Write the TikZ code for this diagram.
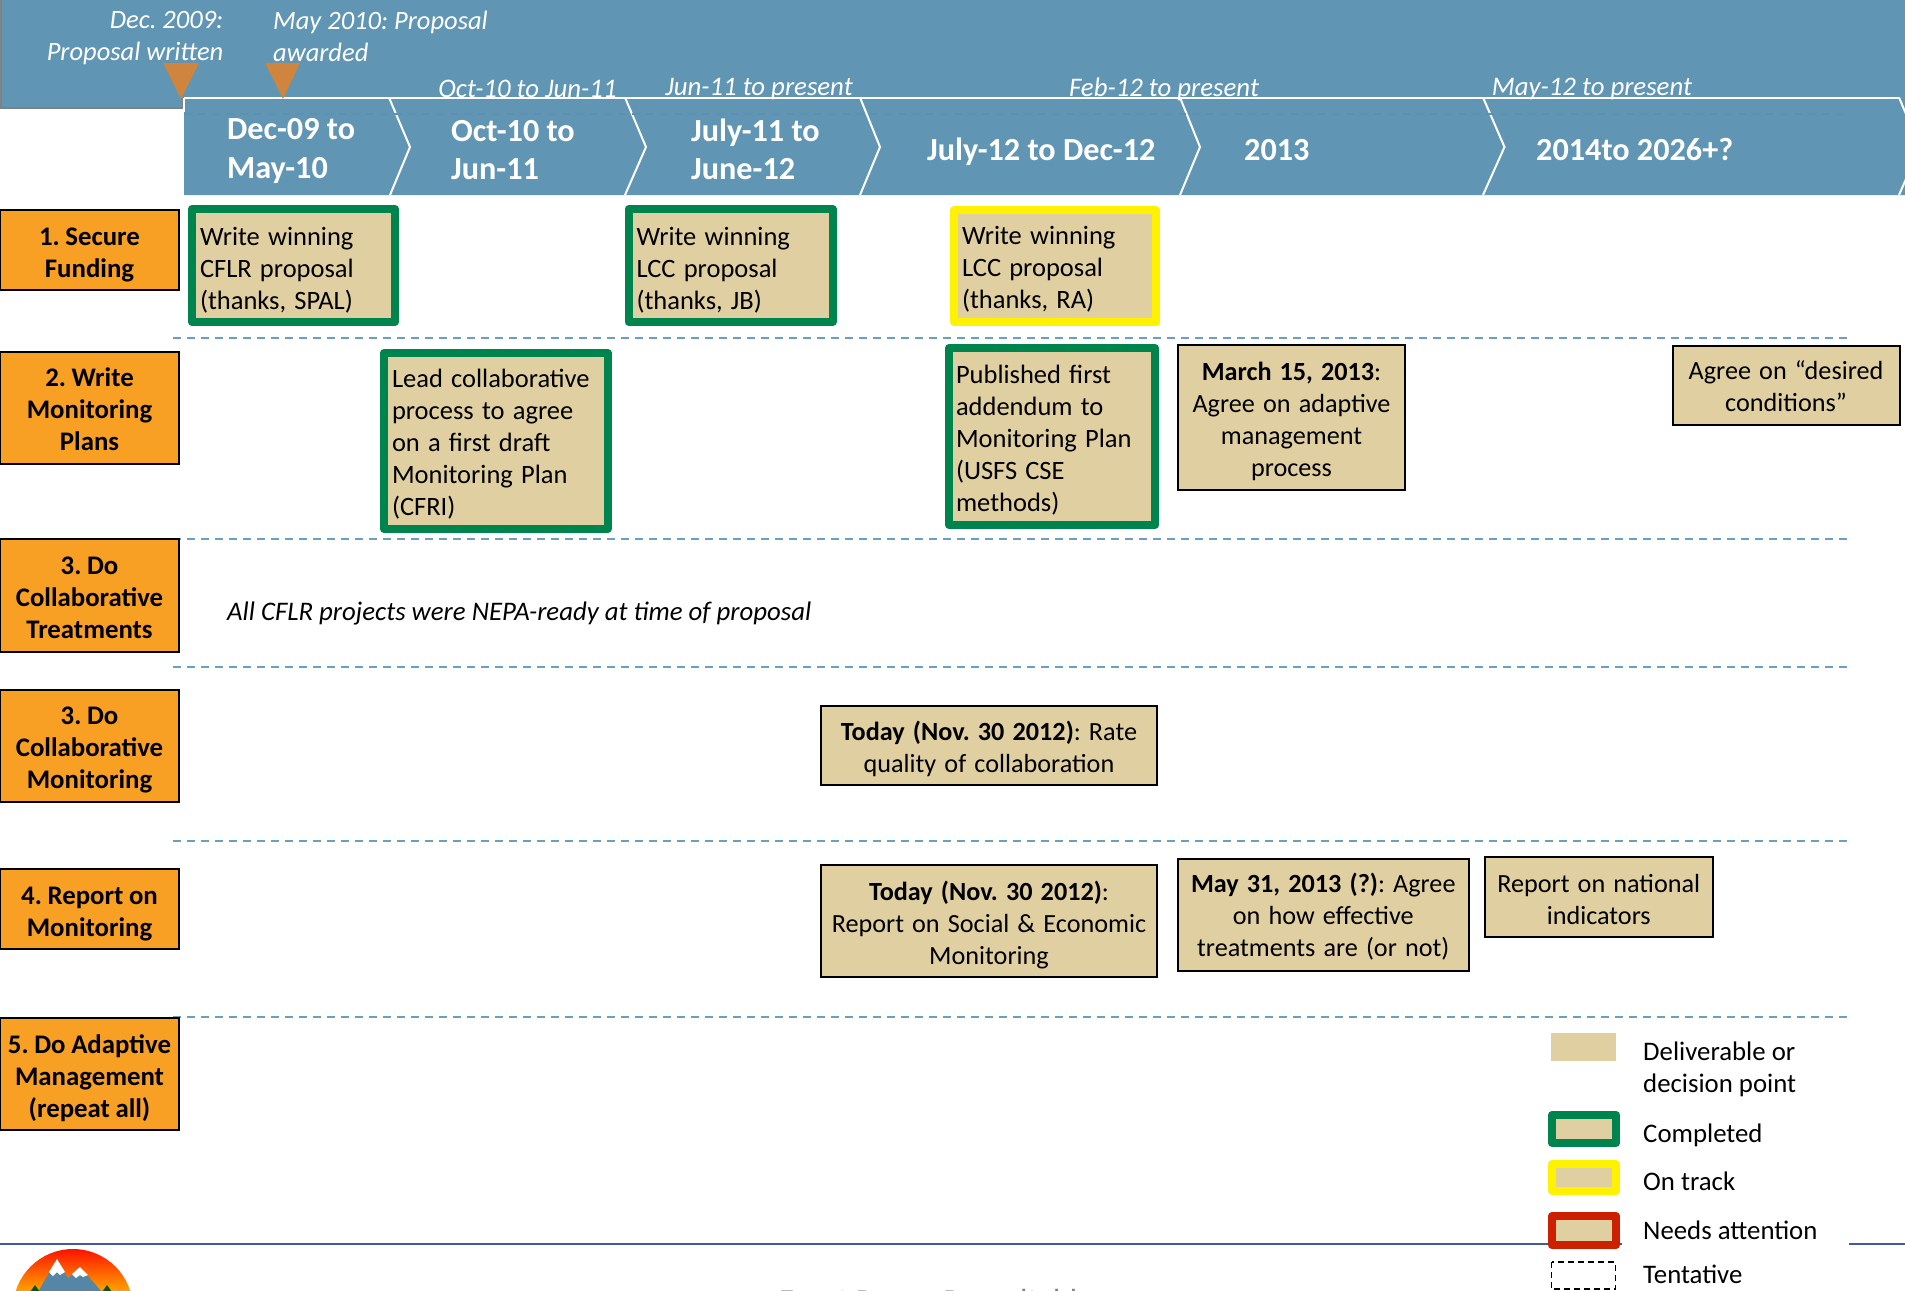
\documentclass[tikz,border=0pt]{standalone}
\usepackage{fontspec}
\setmainfont{Carlito}
\frenchspacing
\definecolor{band}{HTML}{6195B4}
\definecolor{tanbox}{HTML}{E0CFA0}
\definecolor{orangebox}{HTML}{F7A024}
\definecolor{okgreen}{HTML}{00844D}
\definecolor{attn}{HTML}{CC2000}
\definecolor{tri}{HTML}{CF853D}
\definecolor{divider}{HTML}{6B9FBF}
\definecolor{footline}{HTML}{3F5AA0}
\definecolor{mount}{HTML}{5586A6}
\tikzset{
  txt/.style={font=\fontsize{26.2}{32}\selectfont, inner sep=0pt, text=black},
  whitei/.style={font=\fontsize{26.8}{32}\selectfont\itshape, inner sep=0pt, text=white},
  whitem/.style={font=\fontsize{26.5}{32}\selectfont\itshape, inner sep=0pt, text=white},
  head/.style={font=\fontsize{32.2}{38.3}\selectfont\bfseries, inner sep=0pt, text=white, anchor=west, align=left},
  boxl/.style={txt, font=\fontsize{26.5}{32}\selectfont, fill=tanbox, align=left},
  done/.style={boxl, draw=okgreen, line width=8pt, line join=round},
  track/.style={boxl, draw=yellow, line width=8pt, line join=round},
  plain/.style={txt, fill=tanbox, draw=black, line width=2pt, align=center},
  task/.style={txt, font=\fontsize{26.8}{32}\selectfont\bfseries, fill=orangebox, draw=black, line width=2pt, align=center},
  divline/.style={divider, line width=2pt, dash pattern=on 8.3pt off 5.7pt},
  chev/.style={white, line width=2pt},
  legtxt/.style={txt, font=\fontsize{26.8}{32}\selectfont, anchor=west, align=left},
  tmark/.style={fill=tri, draw=none},
  swatch/.style={fill=tanbox, line width=8pt, line join=round}
}
\newcommand{\tlspacing}{}
\newcommand{\tlbox}[9]{%
  \pgfmathsetmacro\tcx{(#3+#5)/2}%
  \pgfmathsetmacro\tcy{(#4+#6)/2}%
  \pgfmathsetmacro\tw{#5-#3}%
  \pgfmathsetmacro\th{#6-#4}%
  \pgfmathsetmacro\ttw{#5-#3-2*#7}%
  \pgfmathsetmacro\trh{20+2*#8}%
  \node[#2, minimum width=\tw pt, minimum height=\th pt, inner xsep=#7pt, text width=\ttw pt] (#1) at (\tcx,\tcy) {\tlspacing\rule{0pt}{\trh pt}#9};%
}
\begin{document}
\begin{tikzpicture}[x=1pt,y=-1pt]
\useasboundingbox (0,0) rectangle (1905,1290);
\clip (0,0) rectangle (1905,1290);
\fill[white] (0,0) rectangle (1905,1290);
% band
\fill[band] (0,0) -- (1905,0) -- (1905,195) -- (184,195) -- (184,108) -- (0,108) -- cycle;
\draw[gray!85!band, line width=2pt] (1,0) -- (1,108) -- (183,108) -- (183,98);
% chevrons
\draw[chev] (184,97.5) -- (1899,97.5);
\draw[chev] (184,97.5) -- (184,112);
\draw[chev] (389,97.5) -- (410,147) -- (390,195);
\draw[chev] (625,97.5) -- (646,147) -- (625,195);
\draw[chev] (860,97.5) -- (880,147) -- (860,195);
\draw[chev] (1180,97.5) -- (1200,147) -- (1180,195);
\draw[chev] (1483,97.5) -- (1504.5,147) -- (1483,195);
\draw[chev] (1899,97.5) -- (1920,147) -- (1899,195);
\draw[band!97!black, line width=2pt, dash pattern=on 8.3pt off 5.7pt] (184,113.5) -- (1848,113.5);
% milestones
\fill[tmark] (163,63) -- (199,63) -- (181,99) -- cycle;
\fill[tmark] (265,63) -- (300,63) -- (283,99) -- cycle;
\node[whitem, anchor=east, align=right] (m1) at (223.5,38.2) {Dec. 2009:\\Proposal written};
\node[whitem, anchor=west, align=left] (m2) at (273,36) {May 2010: Proposal\\awarded};
\node[whitei] (p1) at (527.5,89.4) {Oct-10 to Jun-11};
\node[whitei] (p2) at (759,89.4) {Jun-11 to present};
\node[whitei] (p3) at (1164,89.4) {Feb-12 to present};
\node[whitei] (p4) at (1592,89.4) {May-12 to present};
% headers
\node[head] (h1) at (227,151) {Dec-09 to\\May-10};
\node[head] (h2) at (451,150) {Oct-10 to\\Jun-11};
\node[head] (h3) at (691,149) {July-11 to\\June-12};
\node[head] (h4) at (927,152) {July-12 to Dec-12};
\node[head] (h5) at (1244,150) {2013};
\node[head] (h6) at (1536,149.5) {2014to 2026+?};
% dividers
\foreach \dy in {337.5,538.7,666.7,841,1016.7}
  \draw[divline] (173,\dy) -- (1848,\dy);
% tasks
\renewcommand{\tlspacing}{\spaceskip=.21em\relax}
\tlbox{t1}{task}{0}{209.5}{179}{289.5}{2}{4.3}{1. Secure\\Funding}
\tlbox{t2}{task}{0}{352}{179}{464}{2}{1}{2. Write\\Monitoring\\Plans}
\tlbox{t3}{task}{0}{539}{179}{651.5}{2}{1.2}{3. Do\\Collaborative\\Treatments}
\tlbox{t4}{task}{0}{689.5}{179}{801.5}{2}{3.7}{3. Do\\Collaborative\\Monitoring}
\tlbox{t5}{task}{0}{869}{179}{949}{2}{3.7}{4. Report on\\Monitoring}
\tlbox{t6}{task}{0}{1017.5}{179}{1130}{2}{3.5}{5. Do Adaptive\\Management\\(repeat all)}
% deliverables
\renewcommand{\tlspacing}{\spaceskip=.31em\relax}
\tlbox{d1}{done}{192}{209}{395}{322}{8}{3.5}{Write winning\\CFLR proposal\\(thanks, SPAL)}
\tlbox{d2}{done}{628.5}{209}{832.5}{322}{8}{3.5}{Write winning\\LCC proposal\\(thanks, JB)}
\tlbox{d3}{track}{954}{210}{1156}{322}{8}{2.7}{Write winning\\LCC proposal\\(thanks, RA)}
\tlbox{d4}{done}{384}{353}{607.5}{529}{8}{2.2}{Lead collaborative\\process to agree\\on a first draft\\Monitoring Plan\\(CFRI)}
\tlbox{d5}{done}{949}{348}{1155}{525}{7}{2.8}{Published first\\addendum to\\Monitoring Plan\\(USFS CSE\\methods)}
\tlbox{d6}{plain}{1178}{345}{1405}{490}{4}{3.2}{\textbf{March 15, 2013}:\\Agree on adaptive\\management\\process}
\tlbox{d7}{plain}{1672.5}{345.5}{1899.5}{425}{4}{.2}{Agree on “desired\\conditions”}
\tlbox{d8}{plain}{821}{705.5}{1157}{785}{4}{3.5}{\textbf{Today (Nov. 30 2012)}: Rate\\quality of collaboration}
\tlbox{d9}{plain}{821}{864.5}{1157}{976.5}{4}{4.5}{\textbf{Today (Nov. 30 2012)}:\\Report on Social \& Economic\\Monitoring}
\tlbox{d10}{plain}{1178}{858.5}{1468.5}{971}{4}{1.7}{\textbf{May 31, 2013 (?)}: Agree\\on how effective\\treatments are (or not)}
\tlbox{d11}{plain}{1485}{857}{1712.5}{936.5}{4}{2}{Report on national\\indicators}
\node[txt, font=\fontsize{26.8}{32}\selectfont\itshape, anchor=west] (nepa) at (227,613.4) {All CFLR projects were NEPA-ready at time of proposal};
% footer line
\coordinate (fa) at (0,1244);
\coordinate (fb) at (1622,1244);
\coordinate (fc) at (1849,1244);
\coordinate (fd) at (1905,1244);
\draw[footline, line width=2.5pt] (fa) -- (fb);
\draw[footline, line width=2.5pt] (fc) -- (fd);
% legend
\fill[tanbox] (1551,1033) rectangle (1616,1061);
\draw[swatch, draw=okgreen] (1552,1115) rectangle (1616,1143);
\draw[swatch, draw=yellow] (1552,1164) rectangle (1616,1191);
\draw[swatch, draw=attn] (1552,1216) rectangle (1616,1245);
\draw[black, line width=1.8pt, dash pattern=on 6pt off 4pt] (1551.5,1262) rectangle (1615.5,1289.3);
\node[legtxt] (l1) at (1643,1069.4) {Deliverable or\\decision point};
\node[legtxt] (l2) at (1643,1135.4) {Completed};
\node[legtxt] (l3) at (1643,1181) {On track};
\node[legtxt] (l4) at (1643,1230) {Needs attention};
\node[legtxt] (l5) at (1643,1274.2) {Tentative};
% logo
\begin{scope}
\clip (73,1309) circle (60);
\shade[top color=red!85!orange, bottom color=orange!70!yellow] (13,1249) rectangle (133,1292);
\fill[mount] (38,1292) -- (57,1259) -- (68,1278) -- (80,1267) -- (102,1292) -- cycle;
\fill[white] (49,1272) -- (57,1259) -- (65,1272) -- (60,1275) -- (57,1272) -- (53,1276) -- cycle;
\fill[white] (72,1274) -- (80,1267) -- (88,1275) -- (83,1277) -- (80,1275) -- (76,1278) -- cycle;
\fill[green!35!black] (30,1292) -- (35,1285) -- (40,1292) -- cycle;
\fill[green!35!black] (102,1292) -- (107,1285) -- (112,1292) -- cycle;
\end{scope}
% footer title
\node[txt, font=\fontsize{32}{38}\selectfont, text=gray, anchor=base west] (ft) at (779,1311) {Front Range Roundtable};
\end{tikzpicture}
\end{document}
